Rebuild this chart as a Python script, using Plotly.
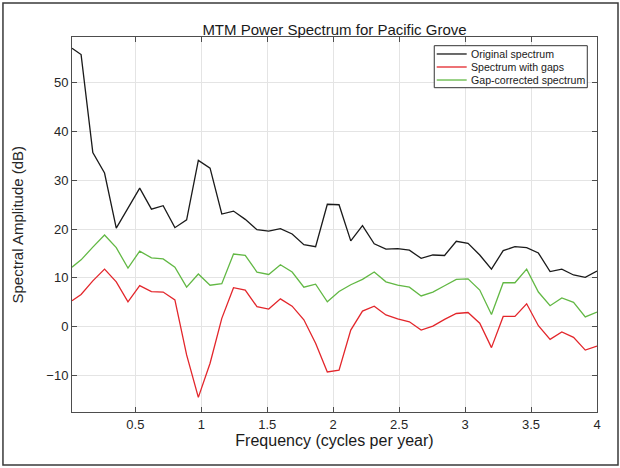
import plotly.graph_objects as go

# Frequency grid (cycles per year)
freq = [0.02, 0.0889, 0.1778, 0.2667, 0.3556, 0.4444, 0.5333, 0.6222, 0.7111, 0.8,
        0.8889, 0.9778, 1.0667, 1.1556, 1.2444, 1.3333, 1.4222, 1.5111, 1.6, 1.6889,
        1.7778, 1.8667, 1.9556, 2.0444, 2.1333, 2.2222, 2.3111, 2.4, 2.4889, 2.5778,
        2.6667, 2.7556, 2.8444, 2.9333, 3.0222, 3.1111, 3.2, 3.2889, 3.3778, 3.4667,
        3.5556, 3.6444, 3.7333, 3.8222, 3.9111, 4.0]

# Spectral amplitudes (dB)
original = [57.1, 55.8, 35.7, 31.5, 20.2, 24.3, 28.4, 24.1, 24.8, 20.3,
            21.9, 34.1, 32.5, 23.1, 23.7, 22.0, 19.9, 19.6, 20.1, 19.0,
            16.8, 16.4, 25.1, 25.0, 17.6, 20.7, 17.0, 15.9, 16.0, 15.7,
            14.0, 14.7, 14.6, 17.5, 17.1, 14.7, 11.8, 15.6, 16.4, 16.2,
            15.1, 11.3, 11.8, 10.6, 10.1, 11.4]
with_gaps = [5.3, 6.6, 9.4, 11.8, 9.2, 5.1, 8.4, 7.2, 7.1, 5.5,
             -5.8, -14.5, -7.5, 1.7, 8.0, 7.5, 4.1, 3.6, 5.7, 4.2,
             1.4, -3.4, -9.3, -8.9, -0.7, 3.2, 4.2, 2.4, 1.6, 1.0,
             -0.7, 0.1, 1.5, 2.7, 2.9, 0.7, -4.3, 2.1, 2.1, 4.7,
             0.2, -2.6, -1.1, -2.2, -4.8, -4.0]
gap_corrected = [12.2, 13.7, 16.3, 18.8, 16.2, 12.0, 15.5, 14.1, 13.9, 12.2,
                 8.1, 10.8, 8.5, 8.8, 14.9, 14.6, 11.2, 10.7, 12.7, 11.2,
                 8.1, 8.7, 5.1, 7.2, 8.6, 9.7, 11.2, 9.2, 8.5, 8.1,
                 6.3, 7.1, 8.4, 9.7, 9.8, 7.5, 2.5, 9.0, 9.0, 11.8,
                 7.1, 4.3, 5.9, 5.0, 2.0, 3.0]

series_names = ["Original spectrum", "Spectrum with gaps", "Gap-corrected spectrum"]
series_colors = ["#1a1a1a", "#e3262b", "#62b844"]

x_ticks = [0.5, 1, 1.5, 2, 2.5, 3, 3.5, 4]
x_tick_text = ["0.5", "1", "1.5", "2", "2.5", "3", "3.5", "4"]
y_ticks = [-10, 0, 10, 20, 30, 40, 50]

FONT = "Liberation Sans, Arial, Helvetica, sans-serif"
AXIS_COLOR = "#4d4d4d"
GRID_COLOR = "#e4e4e4"

fig = go.Figure()
for name, values, color in zip(series_names, [original, with_gaps, gap_corrected], series_colors):
    fig.add_trace(go.Scatter(
        x=freq, y=values, mode="lines", name=name,
        line=dict(color=color, width=1.3), showlegend=False,
    ))

# Compact boxed legend in the upper right corner of the axes
lg_x0, lg_x1 = 0.690, 0.9815
lg_y0, lg_y1 = 0.8648, 0.9768
row_y = [0.9547, 0.9200, 0.8853]
shapes = [dict(type="rect", xref="paper", yref="paper", x0=lg_x0, x1=lg_x1, y0=lg_y0, y1=lg_y1,
               line=dict(color="#333333", width=1), fillcolor="white", layer="above")]
annotations = []
for name, color, yy in zip(series_names, series_colors, row_y):
    shapes.append(dict(type="line", xref="paper", yref="paper", x0=0.6947, x1=0.7518, y0=yy, y1=yy,
                       line=dict(color=color, width=1.3), layer="above"))
    annotations.append(dict(xref="paper", yref="paper", x=0.7568, y=yy, text=name, showarrow=False,
                            xanchor="left", yanchor="middle",
                            font=dict(family=FONT, size=10.6, color="#1a1a1a")))

# Frame around the whole figure
shapes.append(dict(type="rect", xref="paper", yref="paper", x0=-0.1315, x1=1.0400, y0=-0.1413, y1=1.0907,
                   line=dict(color="#3a3a3a", width=1.5), fillcolor="rgba(0,0,0,0)", layer="below"))

annotations.append(dict(xref="paper", yref="paper", x=-0.1029, y=0.5, text="Spectral Amplitude (dB)",
                        textangle=-90, showarrow=False, xanchor="center", yanchor="middle",
                        font=dict(family=FONT, size=15, color="#262626")))

fig.update_layout(
    width=620, height=468,
    margin=dict(l=72, r=23, t=37, b=56),
    paper_bgcolor="white", plot_bgcolor="white",
    font=dict(family=FONT, color="#262626"),
    title=dict(text="MTM Power Spectrum for Pacific Grove", x=0.5, xref="paper", xanchor="center",
               y=0.937, yref="container", yanchor="middle",
               font=dict(family=FONT, size=15, color="#1a1a1a")),
    shapes=shapes, annotations=annotations,
    xaxis=dict(range=[0.02, 4], tickvals=x_ticks, ticktext=x_tick_text,
               showgrid=True, gridcolor=GRID_COLOR, gridwidth=1, zeroline=False,
               showline=True, linecolor=AXIS_COLOR, linewidth=1, mirror="ticks",
               ticks="inside", ticklen=5, tickcolor=AXIS_COLOR,
               tickfont=dict(family=FONT, size=13, color="#262626"),
               title=dict(text="Frequency (cycles per year)", standoff=3,
                          font=dict(family=FONT, size=16, color="#1a1a1a"))),
    yaxis=dict(range=[-17.5, 59.4], tickvals=y_ticks,
               showgrid=True, gridcolor=GRID_COLOR, gridwidth=1, zeroline=False,
               showline=True, linecolor=AXIS_COLOR, linewidth=1, mirror="ticks",
               ticks="inside", ticklen=5, tickcolor=AXIS_COLOR,
               tickfont=dict(family=FONT, size=13, color="#262626")),
)

fig.write_html("out.html")
